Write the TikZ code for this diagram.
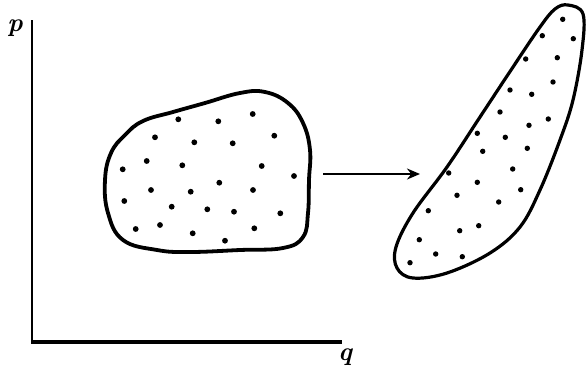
\documentclass[tikz,border=0pt]{standalone}
\usetikzlibrary{arrows.meta}
\begin{document}
\begin{tikzpicture}[x=1pt,y=-1pt,
  blob/.style={line width=3.8pt,line join=round},
  blobthin/.style={line width=3.2pt,line join=round},
  axis/.style={line width=2.2pt},
  dot/.style={fill=black},
  lbl/.style={font=\fontsize{26}{28}\selectfont\bfseries\itshape,inner sep=0pt}]
\useasboundingbox (0,0) rectangle (586,370);
% axes
\coordinate (O) at (32,342);
\coordinate (ytop) at (32,20);
\coordinate (xend) at (342,342);
\draw[axis] (ytop) -- (O);
\draw[line width=3.6pt] (31,342) -- (xend);
\node[lbl] (p) at (15,28) {p};
\node[lbl] (q) at (345,357) {q};
% left blob
\draw[blob] plot[smooth cycle,tension=0.7] coordinates {
 (105,180) (111,153) (125,135) (143,121) (173,112) (205,103) (240,93) (265,92)
 (288,103) (303,123) (310,150) (309,180) (308,213) (303,237) (283,248)
 (240,250) (190,252) (157,250) (123,240) (108,213)};
\foreach \x/\y in {178.3/119.3,218.3/121.3,252.7/114,155/137.3,194.3/142.3,232.7/143.3,274.3/135.7,146.7/161,182.3/165.3,122.7/169.3,261.7/166,294/176,151/190,190.7/191.7,219.3/182.7,253/190,124.3/201,171.7/206.7,207.3/209.3,234/211.7,280.3/213.3,135.7/229,160/225,192.7/233.3,254.3/228.3,225/240.7}
  \fill[dot] (\x,\y) circle (2.9);
% arrow
\coordinate (a1) at (323,174);
\coordinate (a2) at (420,174);
\draw[line width=2.4pt,-{Stealth[length=13pt,width=11pt]}] (a1) -- (a2);
% right blob
\draw[blobthin] plot[smooth cycle,tension=0.6] coordinates {
 (568,5) (583,14) (582,50) (573,100) (560,140) (540,190) (520,227)
 (490,253) (447,273) (413,278) (397,268) (396,247) (413,213) (447,167)
 (480,117) (513,67) (540,27) (555,9)};
\foreach \x/\y in {562.7/19.3,542.3/35.7,573.3/38.7,525.7/59,557.3/57.7,553/82,510/90,531.7/94.3,500/112,548.3/119,529/125.3,477.3/133.3,505.3/137.3,482.7/151.3,527.3/148.3,512.7/169,448.7/173,477.3/182.3,520.7/189.7,457/195.3,498.7/202,428.3/210.7,459.7/230.7,478.7/225.7,419.3/239.7,435.7/254,462.3/256.7,410/262.7}
  \fill[dot] (\x,\y) circle (2.7);
\end{tikzpicture}
\end{document}
